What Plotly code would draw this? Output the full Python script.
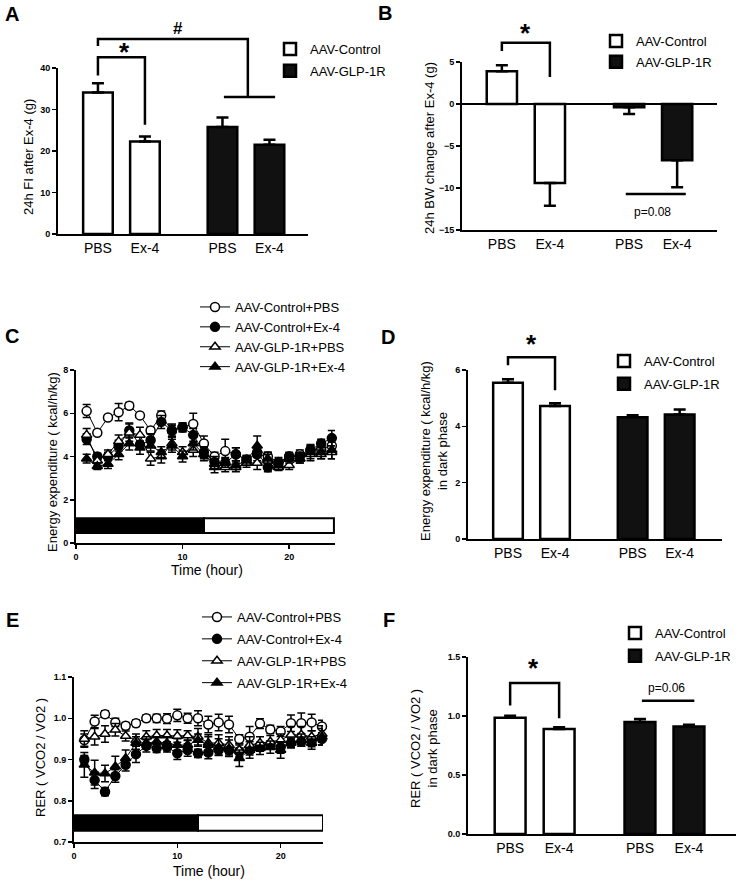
import plotly.graph_objects as go

W, H = 738, 882
FONT = "Liberation Sans, Arial, sans-serif"

# ---------------- data ----------------
groups = ["AAV-Control", "AAV-GLP-1R"]
treatments = ["PBS", "Ex-4"]

# A: 24h food intake after Ex-4 (g)
fi_mean = {"AAV-Control": [34.1, 22.3], "AAV-GLP-1R": [25.8, 21.5]}
fi_sem = {"AAV-Control": [2.2, 1.2], "AAV-GLP-1R": [2.3, 1.2]}
# B: 24h body-weight change after Ex-4 (g)
bw_mean = {"AAV-Control": [3.9, -9.4], "AAV-GLP-1R": [-0.4, -6.7]}
bw_sem = {"AAV-Control": [0.7, 2.7], "AAV-GLP-1R": [0.8, 3.2]}
# D: energy expenditure in dark phase (kcal/h/kg)
ee_dark_mean = {"AAV-Control": [5.55, 4.72], "AAV-GLP-1R": [4.32, 4.42]}
ee_dark_sem = {"AAV-Control": [0.12, 0.10], "AAV-GLP-1R": [0.07, 0.18]}
# F: RER in dark phase
rer_dark_mean = {"AAV-Control": [0.985, 0.89], "AAV-GLP-1R": [0.95, 0.91]}
rer_dark_sem = {"AAV-Control": [0.018, 0.015], "AAV-GLP-1R": [0.025, 0.015]}

hours = list(range(1, 25))
series_names = ["AAV-Control+PBS", "AAV-Control+Ex-4", "AAV-GLP-1R+PBS", "AAV-GLP-1R+Ex-4"]

# C: energy expenditure time course
ee_ctrl_pbs = [6.1, 5.1, 5.8, 6.05, 6.35, 5.9, 5.2, 5.9, 5.2, 5.35, 5.5, 4.6,
               4.0, 4.25, 4.1, 3.85, 4.1, 4.0, 3.75, 4.0, 4.1, 4.3, 4.35, 4.5]
ee_ctrl_ex4 = [4.8, 4.0, 4.0, 4.5, 5.2, 4.55, 4.75, 5.6, 5.2, 5.35, 5.0, 4.2,
               3.75, 3.7, 4.1, 3.85, 4.2, 3.5, 3.7, 4.0, 4.0, 4.3, 4.6, 4.85]
ee_glp_pbs = [5.0, 3.8, 4.1, 4.7, 5.1, 5.0, 3.9, 4.0, 4.6, 4.2, 4.3, 4.1,
              3.5, 3.5, 3.5, 3.7, 3.7, 3.8, 3.5, 3.6, 3.9, 4.1, 4.1, 4.2]
ee_glp_ex4 = [3.9, 3.55, 3.65, 4.1, 4.6, 4.4, 4.5, 4.2, 4.5, 4.0, 4.6, 4.1,
              3.65, 3.7, 3.6, 3.8, 4.5, 3.9, 3.6, 3.9, 3.9, 4.2, 4.2, 4.3]
ee_ctrl_pbs_sem = [0.3, 0.1, 0.1, 0.4, 0.15, 0.1, 0.15, 0.2, 0.3, 0.2, 0.5, 0.35,
                   0.2, 0.55, 0.3, 0.2, 0.3, 0.2, 0.2, 0.15, 0.2, 0.2, 0.25, 0.4]
ee_ctrl_ex4_sem = [0.25, 0.15, 0.2, 0.25, 0.35, 0.15, 0.3, 0.3, 0.25, 0.2, 0.3, 0.25,
                   0.25, 0.25, 0.3, 0.2, 0.25, 0.2, 0.15, 0.2, 0.2, 0.25, 0.2, 0.35]
ee_glp_pbs_sem = [0.3, 0.2, 0.2, 0.3, 0.4, 0.35, 0.3, 0.3, 0.3, 0.25, 0.3, 0.3,
                  0.25, 0.2, 0.2, 0.2, 0.3, 0.3, 0.15, 0.2, 0.2, 0.3, 0.2, 0.3]
ee_glp_ex4_sem = [0.2, 0.15, 0.2, 0.25, 0.3, 0.3, 0.25, 0.25, 0.3, 0.25, 0.3, 0.2,
                  0.2, 0.2, 0.2, 0.2, 0.45, 0.3, 0.2, 0.2, 0.2, 0.3, 0.3, 0.4]

# E: RER time course
rer_ctrl_pbs = [0.947, 0.992, 1.01, 0.99, 0.982, 0.988, 1.0, 1.0, 0.999, 1.007, 1.0, 1.0,
                0.985, 0.99, 0.985, 0.95, 0.955, 0.987, 0.973, 0.968, 0.988, 0.988, 0.99, 0.98]
rer_ctrl_ex4 = [0.90, 0.85, 0.822, 0.86, 0.887, 0.913, 0.933, 0.927, 0.93, 0.915, 0.923, 0.915,
                0.917, 0.923, 0.923, 0.92, 0.923, 0.93, 0.935, 0.93, 0.94, 0.943, 0.943, 0.95]
rer_glp_pbs = [0.95, 0.955, 0.962, 0.972, 0.957, 0.947, 0.955, 0.958, 0.958, 0.957, 0.958, 0.955,
               0.94, 0.94, 0.935, 0.923, 0.935, 0.94, 0.943, 0.947, 0.96, 0.96, 0.955, 0.962]
rer_glp_ex4 = [0.887, 0.868, 0.866, 0.883, 0.903, 0.94, 0.94, 0.943, 0.94, 0.935, 0.935, 0.947,
               0.935, 0.93, 0.927, 0.903, 0.923, 0.927, 0.93, 0.923, 0.94, 0.947, 0.94, 0.955]
rer_ctrl_pbs_sem = [0.015, 0.015, 0.008, 0.01, 0.008, 0.008, 0.008, 0.01, 0.012, 0.015, 0.012, 0.018,
                    0.02, 0.02, 0.02, 0.01, 0.025, 0.012, 0.01, 0.012, 0.02, 0.025, 0.02, 0.015]
rer_ctrl_ex4_sem = [0.01, 0.02, 0.01, 0.015, 0.015, 0.02, 0.015, 0.01, 0.012, 0.015, 0.015, 0.01,
                    0.015, 0.012, 0.012, 0.015, 0.012, 0.01, 0.01, 0.015, 0.01, 0.01, 0.012, 0.015]
rer_glp_pbs_sem = [0.02, 0.02, 0.02, 0.015, 0.012, 0.015, 0.015, 0.015, 0.015, 0.015, 0.012, 0.02,
                   0.02, 0.02, 0.02, 0.015, 0.02, 0.015, 0.015, 0.015, 0.02, 0.02, 0.015, 0.02]
rer_glp_ex4_sem = [0.03, 0.03, 0.02, 0.025, 0.02, 0.015, 0.015, 0.012, 0.015, 0.015, 0.012, 0.015,
                   0.02, 0.02, 0.02, 0.02, 0.02, 0.015, 0.015, 0.02, 0.012, 0.015, 0.015, 0.02]

dark_phase = [0, 12]
light_phase = [12, 24]

# ---------------- helpers (positions given in page pixels) ----------------
def px(x):
    return x / W


def py(y):
    return 1 - y / H


GROUP_OFFSET = 2.65
BAR_W = 0.63
bar_fill = {"AAV-Control": "white", "AAV-GLP-1R": "#111111"}

fig = go.Figure()
shapes = []
annotations = []
layout = dict(
    template="none",
    width=W, height=H, margin=dict(l=0, r=0, t=0, b=0, pad=0, autoexpand=False),
    paper_bgcolor="white", plot_bgcolor="rgba(0,0,0,0)",
    font=dict(family=FONT, color="black", size=12),
    showlegend=True,
)


def yaxis(domain, rng, tickvals, anchor, fmt=None):
    d = dict(domain=domain, range=rng, anchor=anchor, showline=True, linecolor="black",
             linewidth=2, ticks="outside", ticklen=4, tickwidth=1.5, tickcolor="black",
             tickvals=tickvals, tickfont=dict(size=9, family=FONT, color="black", weight="bold"),
             showgrid=False, zeroline=False, fixedrange=True, automargin=False)
    if fmt:
        d["tickformat"] = fmt
    return d


def xaxis_cat(domain, rng, anchor):
    tv, tt = [], []
    for gi, g in enumerate(groups):
        for ti, t in enumerate(treatments):
            tv.append(gi * GROUP_OFFSET + ti)
            tt.append(t)
    return dict(domain=domain, range=rng, anchor=anchor, showline=True, linecolor="black",
                linewidth=2, ticks="", tickvals=tv, ticktext=tt,
                tickfont=dict(size=14, family=FONT, color="black"),
                showgrid=False, zeroline=False, fixedrange=True, automargin=False)


def xaxis_time(domain, rng, anchor):
    return dict(domain=domain, range=rng, anchor=anchor, showline=True,
                linecolor="black", linewidth=2, ticks="outside", ticklen=4, tickwidth=1.5,
                tickcolor="black", tickvals=[0, 10, 20],
                tickfont=dict(size=9, family=FONT, color="black", weight="bold"),
                showgrid=False, zeroline=False, fixedrange=True, automargin=False)


def legend_box(xpx, ypx, gap):
    return dict(x=px(xpx), y=py(ypx), xanchor="left", yanchor="top", bgcolor="rgba(0,0,0,0)",
                borderwidth=0, font=dict(size=13, family=FONT, color="black"),
                tracegroupgap=gap, traceorder="grouped", itemwidth=30)


def add_bars(means, sems, xa, ya, leg):
    for gi, g in enumerate(groups):
        m = means[g]
        s = sems[g]
        plus = [e if v >= 0 else 0 for v, e in zip(m, s)]
        minus = [e if v < 0 else 0 for v, e in zip(m, s)]
        fig.add_trace(go.Bar(
            x=[gi * GROUP_OFFSET + ti for ti in range(len(treatments))], y=m, width=BAR_W,
            name=g, legend=leg, legendgroup=leg + g, xaxis=xa, yaxis=ya,
            marker=dict(color=bar_fill[g], line=dict(color="black", width=2.5)),
            error_y=dict(type="data", symmetric=False, array=plus, arrayminus=minus,
                         thickness=2.5, width=6, color="black"),
            showlegend=True, cliponaxis=False, hoverinfo="skip",
        ))


def yfrac(v, rng):
    return (v - rng[0]) / (rng[1] - rng[0])


def bracket(xa, ya, rng, x0, x1, top, yl, yr):
    shapes.append(dict(
        type="path", xref=xa, yref=ya + " domain",
        path=f"M {x0},{yfrac(yl, rng)} L {x0},{yfrac(top, rng)} L {x1},{yfrac(top, rng)} L {x1},{yfrac(yr, rng)}",
        line=dict(color="black", width=2.5)))


def hline(xa, ya, rng, x0, x1, yv):
    shapes.append(dict(type="line", xref=xa, yref=ya + " domain", x0=x0, x1=x1,
                       y0=yfrac(yv, rng), y1=yfrac(yv, rng), line=dict(color="black", width=2.5)))


def label(xa, ya, rng, x, yv, text, size, bold=False, yshift=0):
    annotations.append(dict(xref=xa, yref=ya + " domain", x=x, y=yfrac(yv, rng), text=text,
                            showarrow=False, yshift=yshift, xanchor="center", yanchor="middle",
                            font=dict(size=size, family=FONT, color="black",
                                      weight="bold" if bold else "normal")))


def paper_text(xpx, ypx, text, size, bold=False, angle=0):
    annotations.append(dict(xref="paper", yref="paper", x=px(xpx), y=py(ypx), text=text,
                            showarrow=False, textangle=angle, xanchor="center", yanchor="middle",
                            font=dict(size=size, family=FONT, color="black",
                                      weight="bold" if bold else "normal")))


STAR = 26
STAR_SHIFT = -5

# ---------------- Panel A ----------------
rA = [0, 40]
layout["xaxis"] = xaxis_cat([px(58), px(308)], [-0.85, 4.47], "y")
layout["yaxis"] = yaxis([py(234), py(68)], rA, [0, 10, 20, 30, 40], "x")
add_bars(fi_mean, fi_sem, "x", "y", "legend")
bracket("x", "y", rA, 0, 1, 42.6, 38.2, 26.3)
label("x", "y", rA, 0.57, 45.0, "*", STAR, True, STAR_SHIFT)
shapes.append(dict(type="path", xref="x", yref="y domain",
                   path=f"M 0,{yfrac(45.3, rA)} L 0,{yfrac(47, rA)} L 3.19,{yfrac(47, rA)} L 3.19,{yfrac(33, rA)} "
                        f"M 2.68,{yfrac(33, rA)} L 3.77,{yfrac(33, rA)}",
                   line=dict(color="black", width=2.5)))
label("x", "y", rA, 1.7, 49.6, "#", 17, True)
layout["legend"] = legend_box(270, 34, 2)
paper_text(29, 157, "24h FI after Ex-4 (g)", 13, angle=-90)
paper_text(12, 14, "A", 20, True)

# ---------------- Panel B ----------------
rB = [-15, 5]
layout["xaxis2"] = xaxis_cat([px(462), px(717)], [-0.83, 4.48], "y2")
layout["yaxis2"] = yaxis([py(230), py(62)], rB, [-15, -10, -5, 0, 5], "x2")
layout["yaxis2"].update(zeroline=True, zerolinecolor="black", zerolinewidth=1.5)
add_bars(bw_mean, bw_sem, "x2", "y2", "legend2")
bracket("x2", "y2", rB, 0, 1, 7.3, 6.3, 3.2)
label("x2", "y2", rB, 0.5, 9.0, "*", STAR, True, STAR_SHIFT)
hline("x2", "y2", rB, 2.58, 3.83, -10.7)
label("x2", "y2", rB, 3.13, -12.9, "p=0.08", 12)
layout["legend2"] = legend_box(596, 26, 1)
paper_text(429, 148, "24h BW change after Ex-4 (g)", 13, angle=-90)
paper_text(385, 13, "B", 20, True)

# ---------------- Panel C ----------------
rC = [0, 8]
layout["xaxis3"] = xaxis_time([px(76), px(335)], [0, 24.3], "y3")
layout["yaxis3"] = yaxis([py(543), py(370)], rC, [0, 2, 4, 6, 8], "x3")

marker_styles = [
    dict(symbol="circle", color="white", size=9),
    dict(symbol="circle", color="black", size=9),
    dict(symbol="triangle-up", color="white", size=9),
    dict(symbol="triangle-up", color="black", size=9),
]


def add_series(ys, sems, xa, ya, leg):
    for name, y, e, ms in zip(series_names, ys, sems, marker_styles):
        fig.add_trace(go.Scatter(
            x=hours, y=y, mode="lines+markers", name=name, legend=leg, legendgroup=leg + name,
            xaxis=xa, yaxis=ya, cliponaxis=False, hoverinfo="skip",
            line=dict(color="black", width=1),
            marker=dict(symbol=ms["symbol"], color=ms["color"], size=ms["size"],
                        line=dict(color="black", width=1.5)),
            error_y=dict(type="data", array=e, thickness=1.5, width=4, color="black"),
        ))


def phase_bar(xa, ya, y0, y1, x_end):
    shapes.append(dict(type="rect", xref=xa, yref=ya, x0=light_phase[0], x1=x_end,
                       y0=y0, y1=y1, fillcolor="white", line=dict(color="black", width=2), layer="above"))
    shapes.append(dict(type="rect", xref=xa, yref=ya, x0=dark_phase[0], x1=dark_phase[1],
                       y0=y0, y1=y1, fillcolor="black", line=dict(color="black", width=2), layer="above"))


add_series([ee_ctrl_pbs, ee_ctrl_ex4, ee_glp_pbs, ee_glp_ex4],
           [ee_ctrl_pbs_sem, ee_ctrl_ex4_sem, ee_glp_pbs_sem, ee_glp_ex4_sem], "x3", "y3", "legend3")
phase_bar("x3", "y3", 0.46, 1.15, 24.2)
layout["legend3"] = legend_box(195, 292, 0)
paper_text(52, 462, "Energy expenditure ( kcal/h/kg)", 13, angle=-90)
paper_text(207, 570, "Time (hour)", 14)
paper_text(12, 336, "C", 20, True)

# ---------------- Panel D ----------------
rD = [0, 6]
layout["xaxis4"] = xaxis_cat([px(468), px(722)], [-0.85, 4.55], "y4")
layout["yaxis4"] = yaxis([py(539), py(370)], rD, [0, 2, 4, 6], "x4")
add_bars(ee_dark_mean, ee_dark_sem, "x4", "y4", "legend4")
bracket("x4", "y4", rD, 0, 1, 6.45, 6.17, 5.28)
label("x4", "y4", rD, 0.5, 7.1, "*", STAR, True, STAR_SHIFT)
layout["legend4"] = legend_box(604, 346, 3)
paper_text(434, 451, "Energy expenditure ( kcal/h/kg)<br>in dark phase", 13, angle=-90)
paper_text(388, 337, "D", 20, True)

# ---------------- Panel E ----------------
rE = [0.7, 1.1]
layout["xaxis5"] = xaxis_time([px(74), px(323)], [0, 24.1], "y5")
layout["yaxis5"] = yaxis([py(842), py(677)], rE, [0.7, 0.8, 0.9, 1.0, 1.1], "x5", ".1f")
add_series([rer_ctrl_pbs, rer_ctrl_ex4, rer_glp_pbs, rer_glp_ex4],
           [rer_ctrl_pbs_sem, rer_ctrl_ex4_sem, rer_glp_pbs_sem, rer_glp_ex4_sem], "x5", "y5", "legend5")
phase_bar("x5", "y5", 0.727, 0.765, 24.1)
layout["legend5"] = legend_box(197, 602, 2)
paper_text(40, 758, "RER ( VCO2 / VO2 )", 13, angle=-90)
paper_text(209, 871, "Time (hour)", 14)
paper_text(12, 620, "E", 20, True)

# ---------------- Panel F ----------------
rF = [0, 1.5]
layout["xaxis6"] = xaxis_cat([px(468), px(736)], [-0.86, 4.61], "y6")
layout["yaxis6"] = yaxis([py(834), py(657)], rF, [0, 0.5, 1.0, 1.5], "x6", ".1f")
add_bars(rer_dark_mean, rer_dark_sem, "x6", "y6", "legend6")
bracket("x6", "y6", rF, 0, 1, 1.28, 1.09, 0.98)
label("x6", "y6", rF, 0.47, 1.45, "*", STAR, True, STAR_SHIFT)
hline("x6", "y6", rF, 2.69, 3.76, 1.13)
label("x6", "y6", rF, 3.2, 1.24, "p=0.06", 12)
layout["legend6"] = legend_box(615, 618, 3)
paper_text(424, 749, "RER ( VCO2 / VO2 )<br>in dark phase", 13, angle=-90)
paper_text(389, 620, "F", 20, True)

layout["shapes"] = shapes
layout["annotations"] = annotations
layout["bargap"] = 0
layout["hovermode"] = False
fig.update_layout(**layout)
# remove the browser's default 8px body margin so the 738x882 figure fills the window exactly
fig.write_html("out.html", config={"displayModeBar": False, "staticPlot": True},
               post_script="document.body.style.margin='0';")
